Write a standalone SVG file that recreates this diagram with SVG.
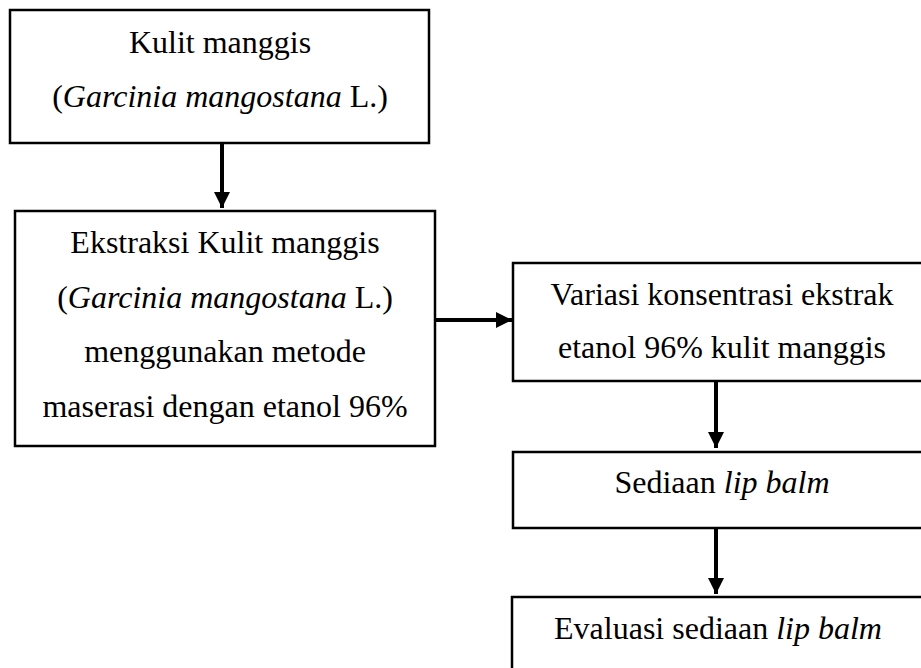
<svg xmlns="http://www.w3.org/2000/svg" width="921" height="668" viewBox="0 0 921 668">
<style>
  .box { fill: #ffffff; stroke: #000000; stroke-width: 2.5; }
  text { font-family: 'Liberation Serif', 'Times New Roman', Tinos, 'DejaVu Serif', serif; font-size: 32px; fill: #000000; text-anchor: middle; }
  .i { font-style: italic; }
  .conn { stroke: #000000; stroke-width: 4; fill: none; marker-end: url(#arrow); }
</style>
<defs>
  <marker id="arrow" markerUnits="userSpaceOnUse" markerWidth="18" markerHeight="18" refX="16" refY="8" orient="auto">
    <path d="M0,0 L16,8 L0,16 Z" fill="#000000"/>
  </marker>
</defs>
<rect width="921" height="668" fill="#ffffff"/>
<g id="n1">
  <rect class="box" x="10" y="10" width="419" height="133"/>
  <text font-family="Liberation Serif, serif" x="220" y="53">Kulit manggis</text>
  <text font-family="Liberation Serif, serif" x="220" y="107">(<tspan class="i">Garcinia mangostana</tspan> L.)</text>
</g>
<g id="n2">
  <rect class="box" x="15" y="211" width="420" height="235"/>
  <text font-family="Liberation Serif, serif" x="225" y="253">Ekstraksi Kulit manggis</text>
  <text font-family="Liberation Serif, serif" x="225" y="308">(<tspan class="i">Garcinia mangostana</tspan> L.)</text>
  <text font-family="Liberation Serif, serif" x="225" y="362">menggunakan metode</text>
  <text font-family="Liberation Serif, serif" x="225" y="417">maserasi dengan etanol 96%</text>
</g>
<g id="n3">
  <rect class="box" x="513" y="263" width="420" height="118"/>
  <text font-family="Liberation Serif, serif" x="722" y="305">Variasi konsentrasi ekstrak</text>
  <text font-family="Liberation Serif, serif" x="722" y="358">etanol 96% kulit manggis</text>
</g>
<g id="n4">
  <rect class="box" x="513" y="452" width="420" height="76"/>
  <text font-family="Liberation Serif, serif" x="722" y="493">Sediaan <tspan class="i">lip balm</tspan></text>
</g>
<g id="n5">
  <rect class="box" x="512" y="597" width="420" height="90"/>
  <text font-family="Liberation Serif, serif" x="718" y="639">Evaluasi sediaan <tspan class="i">lip balm</tspan></text>
</g>
<g id="connectors">
  <line class="conn" x1="222" y1="143" x2="222" y2="208"/>
  <line class="conn" x1="435" y1="320" x2="512" y2="320"/>
  <line class="conn" x1="716" y1="381" x2="716" y2="448"/>
  <line class="conn" x1="716" y1="528" x2="716" y2="594"/>
</g>
</svg>
